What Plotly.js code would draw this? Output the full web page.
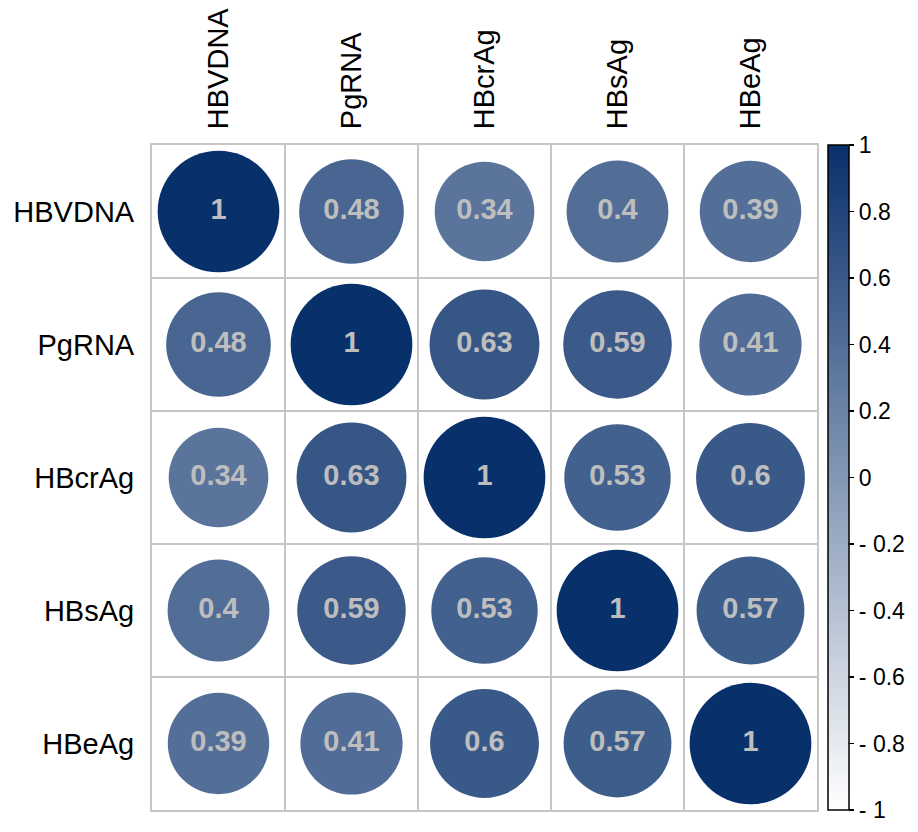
<!DOCTYPE html>
<html>
<head>
<meta charset="utf-8">
<script src="https://cdn.plot.ly/plotly-3.0.1.min.js"></script>
<style>html,body{margin:0;padding:0;background:#fff;}#chart{width:918px;height:832px;}</style>
</head>
<body>
<div id="chart"></div>
<script>
// Variables (rows and columns share the same order)
const variables = ["HBVDNA", "PgRNA", "HBcrAg", "HBsAg", "HBeAg"];
// Correlation matrix rows
const rowHBVDNA = [1, 0.48, 0.34, 0.4, 0.39];
const rowPgRNA  = [0.48, 1, 0.63, 0.59, 0.41];
const rowHBcrAg = [0.34, 0.63, 1, 0.53, 0.6];
const rowHBsAg  = [0.4, 0.59, 0.53, 1, 0.57];
const rowHBeAg  = [0.39, 0.41, 0.6, 0.57, 1];
const corrRows = [rowHBVDNA, rowPgRNA, rowHBcrAg, rowHBsAg, rowHBeAg];
// Colorbar ticks
const cbTickVals = [-1, -0.8, -0.6, -0.4, -0.2, 0, 0.2, 0.4, 0.6, 0.8, 1];
const cbTickText = ["- 1", "- 0.8", "- 0.6", "- 0.4", "- 0.2", "0", "0.2", "0.4", "0.6", "0.8", "1"];

const W = 918, H = 832;
const margin = {l: 152, r: 101, t: 145, b: 22};
const n = variables.length;
const cellPx = (W - margin.l - margin.r) / n;
const maxDiam = cellPx * 0.915;

const xs = [], ys = [], vals = [], sizes = [], texts = [];
corrRows.forEach((row, i) => {
  row.forEach((v, j) => {
    xs.push(j + 1);
    ys.push(i + 1);
    vals.push(v);
    sizes.push(maxDiam * Math.sqrt((v + 1) / 2));
    texts.push(String(v));
  });
});

const font = "Liberation Sans, Arial, Helvetica, sans-serif";

const trace = {
  type: "scatter",
  mode: "markers+text",
  x: xs, y: ys,
  text: texts,
  textposition: "middle center",
  textfont: {family: font, size: 29, color: "#BEBEBE", weight: "bold"},
  hoverinfo: "none",
  marker: {
    size: sizes,
    sizemode: "diameter",
    color: vals,
    cmin: -1, cmax: 1,
    colorscale: [[0, "#FFFFFF"], [1, "#08306B"]],
    opacity: 1,
    line: {width: 0},
    showscale: true,
    colorbar: {
      thickness: 21,
      thicknessmode: "pixels",
      len: 1, lenmode: "fraction",
      x: (828 - margin.l) / (W - margin.l - margin.r),
      xanchor: "left",
      xpad: 0,
      y: 0.5, yanchor: "middle", ypad: 0,
      outlinewidth: 1.5, outlinecolor: "#000",
      ticks: "outside", ticklen: 5, tickwidth: 1.5, tickcolor: "#000",
      tickmode: "array",
      tickvals: cbTickVals,
      ticktext: cbTickText,
      tickfont: {family: font, size: 23, color: "#000"}
    }
  }
};

const gridColor = "#C6C6C6";
const axisCommon = {
  tickmode: "array",
  tickvals: variables.map((_, i) => i + 1),
  ticktext: variables,
  showgrid: false,
  zeroline: false,
  showline: true,
  mirror: true,
  linecolor: gridColor,
  linewidth: 2,
  ticks: "",
  tickfont: {family: font, size: 29, color: "#000"},
  fixedrange: true,
  minor: {tick0: 0.5, dtick: 1, showgrid: true, gridcolor: gridColor, gridwidth: 2, ticks: ""}
};

const layout = {
  width: W, height: H,
  margin: margin,
  paper_bgcolor: "#fff",
  plot_bgcolor: "#fff",
  showlegend: false,
  xaxis: Object.assign({}, axisCommon, {range: [0.5, n + 0.5], side: "top", tickangle: -90, ticklabelstandoff: 8}),
  yaxis: Object.assign({}, axisCommon, {range: [n + 0.5, 0.5], ticklabelstandoff: 10})
};

Plotly.newPlot("chart", [trace], layout, {displayModeBar: false, staticPlot: true});
</script>
</body>
</html>
